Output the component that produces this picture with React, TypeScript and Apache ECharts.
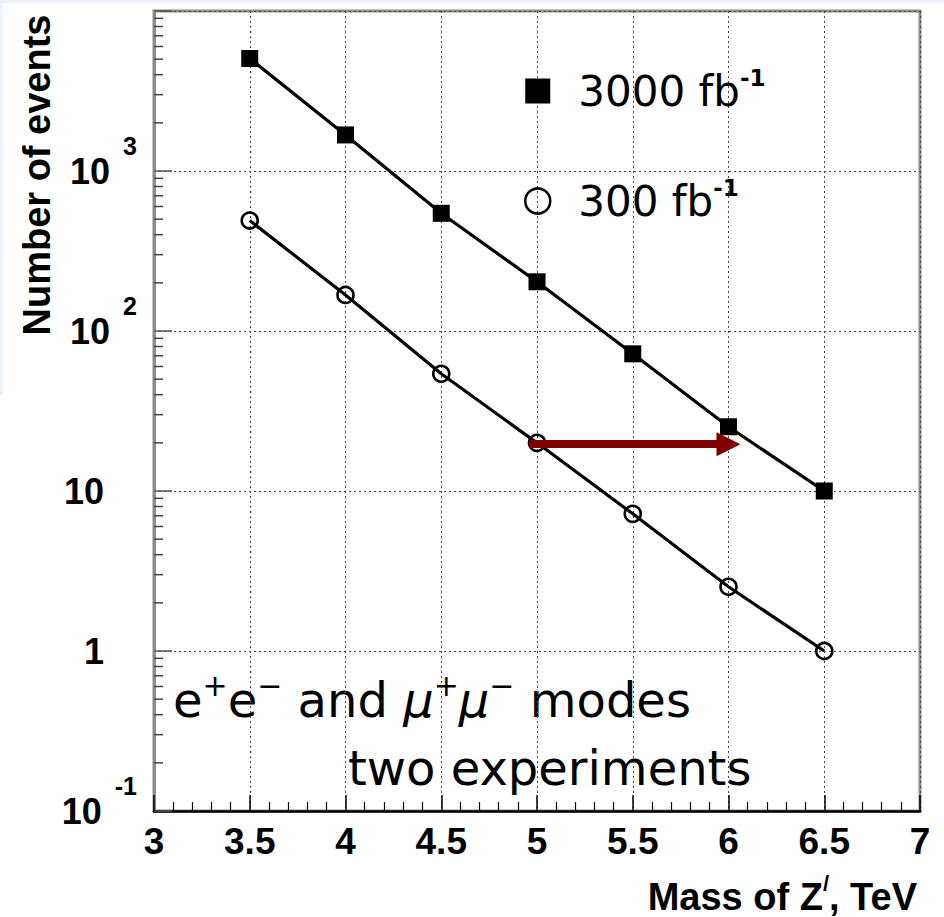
import React, { useEffect, useRef } from "react";
import * as echarts from "echarts";

// ---- data ----
const masses = [3.5, 4, 4.5, 5, 5.5, 6, 6.5];
const events3000 = [5050, 1680, 544, 203, 72, 25.2, 10.0];
const events300 = [490, 168, 54, 20, 7.2, 2.52, 1.0];
const seriesNames = ["3000 fb⁻¹", "300 fb⁻¹"];
const arrowFrom = [4.96, 19.6];
const arrowTo = [6, 19.6];
// log-axis minor tick positions (2..9 within every decade)
const yMinorTicks = [
  0.2, 0.3, 0.4, 0.5, 0.6, 0.7, 0.8, 0.9,
  2, 3, 4, 5, 6, 7, 8, 9,
  20, 30, 40, 50, 60, 70, 80, 90,
  200, 300, 400, 500, 600, 700, 800, 900,
  2000, 3000, 4000, 5000, 6000, 7000, 8000, 9000,
];
const xTitle = "Mass of Z";
const yTitle = "Number of events";
const noteLine1 = [
  ["n", "e"], ["s", "+"], ["n", "e"], ["s", "−"], ["n", " and "],
  ["m", "μ"], ["s", "+"], ["m", "μ"], ["s", "−"], ["n", " modes"],
];
const noteLine2 = "two experiments";

const AXIS_FONT = "Liberation Sans, Arial, sans-serif";
const TEXT_FONT = "DejaVu Sans, sans-serif";

export default function App() {
  const ref = useRef<HTMLDivElement>(null);

  useEffect(() => {
    if (!ref.current) return;
    const chart = echarts.init(ref.current, null, { renderer: "svg" });

    const gridLine = { show: true, lineStyle: { color: "#444", type: [2, 3], width: 1 } };

    const yLabel = (v: number) => {
      const e = Math.round(Math.log10(v));
      if (e >= 4) return "";
      if (e === 0) return "{b|1}{pad|}";
      if (e === 1) return "{b|10}{pad|}";
      return "{b|10}{s|" + (e < 0 ? "-" : "") + Math.abs(e) + "}";
    };

    const noteRich = noteLine1.map(([k, t]) => "{" + k + "|" + t + "}").join("");

    const option: any = {
      animation: false,
      backgroundColor: "#fff",
      grid: {
        left: 154,
        right: 24,
        top: 11,
        bottom: 106,
        show: true,
        borderColor: "#8c8c8c",
        borderWidth: 3,
      },
      xAxis: {
        type: "value",
        min: 3,
        max: 7,
        interval: 0.5,
        axisLine: { show: true, onZero: false, lineStyle: { color: "#000", width: 2.5 } },
        axisTick: { show: true, inside: true, length: 16, lineStyle: { color: "#000", width: 1.5 } },
        minorTick: { show: true, splitNumber: 5, length: 9, lineStyle: { color: "#000", width: 1.2 } },
        axisLabel: {
          margin: 12,
          fontSize: 37,
          fontWeight: "bold",
          fontFamily: AXIS_FONT,
          color: "#000",
          formatter: (v: number) => String(v),
        },
        splitLine: gridLine,
      },
      yAxis: {
        type: "log",
        logBase: 10,
        min: 0.1,
        max: 10000,
        axisLine: { show: true, lineStyle: { color: "#8c8c8c", width: 3 } },
        axisTick: { show: true, inside: true, length: 18, lineStyle: { color: "#555", width: 1.5 } },
        axisLabel: {
          margin: 17,
          color: "#000",
          formatter: yLabel,
          rich: {
            b: { fontSize: 36, fontWeight: "bold", fontFamily: AXIS_FONT, color: "#000", lineHeight: 76 },
            s: {
              fontSize: 25,
              fontWeight: "bold",
              fontFamily: AXIS_FONT,
              color: "#000",
              lineHeight: 25,
              verticalAlign: "top",
              padding: [0, 0, 0, 13],
            },
            pad: { width: 33, lineHeight: 76 },
          },
        },
        splitLine: gridLine,
      },
      legend: {
        orient: "vertical",
        left: 524,
        top: 66,
        padding: 0,
        itemGap: 64,
        itemWidth: 25,
        itemHeight: 25,
        selectedMode: false,
        data: [
          {
            name: seriesNames[0],
            icon: "rect",
            itemStyle: { color: "#000", borderWidth: 0 },
            lineStyle: { width: 0, opacity: 0 },
          },
          {
            name: seriesNames[1],
            icon: "circle",
            itemStyle: { color: "rgba(0,0,0,0)", borderColor: "#000", borderWidth: 2.5 },
            lineStyle: { width: 0, opacity: 0 },
          },
        ],
        formatter: (name: string) => {
          const base = name.replace("⁻¹", "");
          return "{t|" + base + "}{s|-1}";
        },
        textStyle: {
          rich: {
            t: { fontFamily: TEXT_FONT, fontSize: 42, color: "#000", lineHeight: 50, padding: [0, 0, 0, 23] },
            s: {
              fontFamily: TEXT_FONT,
              fontSize: 23,
              fontWeight: "bold",
              color: "#000",
              lineHeight: 24,
              verticalAlign: "top",
            },
          },
        },
      },
      series: [
        {
          name: seriesNames[0],
          type: "line",
          data: masses.map((m, i) => [m, events3000[i]]),
          symbol: "rect",
          symbolSize: 17,
          lineStyle: { color: "#000", width: 3.2 },
          itemStyle: { color: "#000" },
          z: 3,
        },
        {
          name: seriesNames[1],
          type: "line",
          data: masses.map((m, i) => [m, events300[i]]),
          symbol: "circle",
          symbolSize: 16,
          lineStyle: { color: "#000", width: 3.2 },
          itemStyle: { color: "rgba(0,0,0,0)", borderColor: "#000", borderWidth: 2.6 },
          z: 3,
        },
        {
          name: "yMinorTicks",
          type: "custom",
          silent: true,
          clip: false,
          z: 2,
          data: yMinorTicks.map((v) => [3, v]),
          renderItem: (params: any, api: any) => {
            const p = api.coord([api.value(0), api.value(1)]);
            return {
              type: "line",
              shape: { x1: p[0], y1: p[1], x2: p[0] + 9, y2: p[1] },
              style: { stroke: "#444", lineWidth: 1.5 },
            };
          },
        },
        {
          name: "shift",
          type: "line",
          data: [],
          z: 5,
          markLine: {
            silent: true,
            symbol: ["none", "triangle"],
            symbolSize: [24, 24],
            label: { show: false },
            lineStyle: { color: "#800000", width: 8, type: "solid" },
            itemStyle: { color: "#800000" },
            data: [[{ coord: arrowFrom }, { coord: arrowTo }]],
          },
        },
      ],
      graphic: [
        { type: "rect", shape: { x: 0, y: 0, width: 944, height: 3 }, style: { fill: "#eef3fb" }, silent: true },
        { type: "rect", shape: { x: 0, y: 0, width: 3, height: 395 }, style: { fill: "#eef3fb" }, silent: true },
        {
          type: "text",
          x: 37,
          y: 175,
          rotation: Math.PI / 2,
          style: {
            text: yTitle,
            fontFamily: AXIS_FONT,
            fontWeight: "bold",
            fontSize: 38,
            fill: "#000",
            align: "center",
            verticalAlign: "middle",
          },
        },
        {
          type: "text",
          x: 917,
          y: 897,
          style: {
            text: "{b|" + xTitle + "}{s|/}{b|, TeV}",
            align: "right",
            verticalAlign: "middle",
            rich: {
              b: { fontFamily: AXIS_FONT, fontWeight: "bold", fontSize: 38, fill: "#000", lineHeight: 50 },
              s: {
                fontFamily: AXIS_FONT,
                fontWeight: "bold",
                fontSize: 22,
                fill: "#000",
                lineHeight: 24,
                verticalAlign: "top",
              },
            },
          },
        },
        {
          type: "text",
          x: 173,
          y: 700,
          style: {
            text: noteRich,
            align: "left",
            verticalAlign: "middle",
            rich: {
              n: { fontFamily: TEXT_FONT, fontSize: 48, fill: "#000", lineHeight: 60 },
              m: { fontFamily: TEXT_FONT, fontSize: 48, fontStyle: "italic", fill: "#000", lineHeight: 60 },
              s: { fontFamily: TEXT_FONT, fontSize: 30, fill: "#000", lineHeight: 30, verticalAlign: "top" },
            },
          },
        },
        {
          type: "text",
          x: 348,
          y: 768,
          style: {
            text: noteLine2,
            fontFamily: TEXT_FONT,
            fontSize: 48,
            fill: "#000",
            align: "left",
            verticalAlign: "middle",
          },
        },
      ],
    };

    chart.setOption(option);
    return () => chart.dispose();
  }, []);

  return (
    <div
      ref={ref}
      style={{ position: "fixed", left: 0, top: 0, width: 944, height: 917, background: "#fff" }}
    />
  );
}
